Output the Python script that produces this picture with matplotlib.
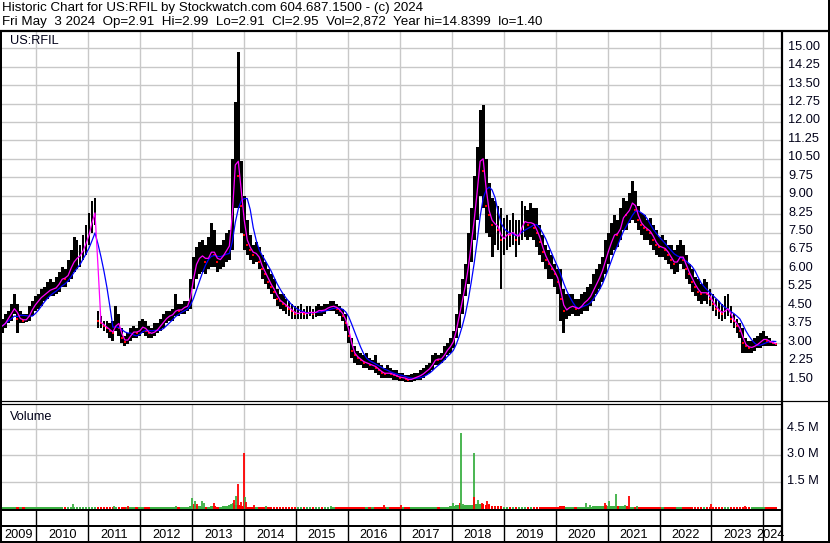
import numpy as np
import pandas as pd
import matplotlib
matplotlib.use("Agg")
import matplotlib.pyplot as plt
import matplotlib.dates as mdates
import matplotlib.transforms as mtransforms
from matplotlib.lines import Line2D

plt.rcParams['font.family'] = ['Liberation Sans', 'DejaVu Sans']

# ---------------- data (3-week bars) ----------------
bar_start = '2009-05-07'
bar_step = '21D'

highs = [
    4.0, 4.2, 4.3, 4.6, 5.0, 4.6, 4.3, 4.2, 4.2, 4.5,
    4.7, 4.9, 5.0, 5.2, 5.3, 5.5, 5.6, 5.5, 5.7, 5.9,
    6.1, 6.0, 6.4, 6.8, 7.3, 7.2, 7.0, 7.4, 7.8, 8.3,
    8.8, 8.9, 4.3, 4.1, 3.9, 3.9, 3.8, 3.9, 4.5, 4.2,
    3.6, 3.3, 3.4, 3.6, 3.7, 3.6, 3.9, 4.0, 3.9, 3.7,
    3.6, 3.8, 3.8, 4.0, 4.2, 4.3, 4.3, 4.4, 5.0, 4.6,
    4.6, 4.7, 4.7, 5.6, 6.5, 6.9, 7.1, 7.2, 7.0, 7.3,
    7.9, 7.6, 7.0, 7.0, 7.2, 7.5, 7.6, 10.5, 12.8, 14.84,
    10.4, 9.0, 8.0, 7.4, 7.0, 7.1, 6.9, 6.6, 6.3, 6.0,
    5.8, 5.6, 5.2, 5.0, 5.0, 4.8, 4.7, 4.6, 4.5, 4.5,
    4.6, 4.4, 4.5, 4.5, 4.4, 4.5, 4.6, 4.5, 4.6, 4.6,
    4.7, 4.7, 4.6, 4.5, 4.4, 4.2, 3.7, 3.2, 2.9, 2.7,
    2.6, 2.5, 2.6, 2.4, 2.3, 2.5, 2.2, 2.1, 2.0, 2.1,
    2.0, 1.9, 1.9, 1.8, 1.8, 1.7, 1.7, 1.75, 1.8, 1.8,
    1.9, 2.0, 2.1, 2.2, 2.5, 2.6, 2.5, 2.6, 2.9, 3.0,
    3.2, 3.5, 4.2, 5.0, 5.6, 6.2, 7.5, 8.5, 9.8, 11.0,
    12.5, 12.7, 10.5, 9.5, 8.9, 8.8, 8.6, 8.5, 8.1, 8.2,
    8.0, 8.3, 8.0, 8.0, 8.8, 8.6, 8.4, 8.7, 8.5, 8.5,
    7.8, 7.4, 7.0, 6.8, 6.6, 6.2, 6.0, 6.0, 5.2, 5.0,
    5.0, 5.0, 4.8, 4.8, 5.0, 5.1, 5.3, 5.4, 5.8, 6.0,
    6.2, 6.5, 7.2, 7.5, 7.9, 8.2, 8.0, 8.5, 8.9, 8.8,
    9.1, 9.6, 9.2, 8.6, 8.3, 8.2, 8.0, 8.1, 7.8, 7.6,
    7.3, 7.4, 7.2, 7.0, 7.0, 6.8, 7.0, 7.2, 7.0, 6.6,
    6.2, 6.0, 5.7, 5.6, 5.4, 5.6, 5.5, 5.2, 5.0, 4.8,
    4.7, 4.6, 4.9, 5.0, 4.5, 4.2, 4.0, 3.8, 3.6, 3.2,
    3.1, 3.1, 3.2, 3.3, 3.4, 3.5, 3.3, 3.2, 3.1, 3.0,
]
lows = [
    3.4, 3.6, 3.8, 3.9, 4.2, 3.4, 3.8, 3.8, 3.85, 3.9,
    4.1, 4.3, 4.4, 4.5, 4.7, 4.8, 4.9, 4.9, 5.0, 5.1,
    5.3, 5.3, 5.5, 5.6, 5.9, 6.0, 6.1, 6.4, 6.6, 7.0,
    7.5, 7.8, 3.6, 3.6, 3.5, 3.4, 3.2, 3.1, 3.5, 3.3,
    3.0, 2.9, 2.95, 3.1, 3.2, 3.2, 3.3, 3.4, 3.3, 3.2,
    3.2, 3.3, 3.4, 3.5, 3.6, 3.8, 3.9, 3.9, 4.1, 4.1,
    4.2, 4.2, 4.3, 4.4, 5.2, 5.6, 5.8, 5.9, 5.8, 6.0,
    6.1, 6.1, 5.9, 6.0, 6.1, 6.3, 6.4, 6.8, 8.5, 8.5,
    7.5, 6.8, 6.6, 6.4, 6.2, 6.3, 6.0, 5.6, 5.4, 5.2,
    5.0, 4.8, 4.5, 4.4, 4.3, 4.2, 4.1, 4.0, 4.0, 4.0,
    4.0, 4.0, 4.0, 4.1, 4.0, 4.05, 4.1, 4.1, 4.2, 4.3,
    4.3, 4.3, 4.2, 4.1, 3.9, 3.5, 3.0, 2.4, 2.2, 2.1,
    2.1, 2.0, 2.0, 1.9, 1.9, 1.8, 1.7, 1.6, 1.6, 1.6,
    1.6, 1.5, 1.5, 1.45, 1.45, 1.4, 1.4, 1.4, 1.45, 1.5,
    1.5, 1.6, 1.7, 1.8, 1.9, 2.1, 2.1, 2.2, 2.3, 2.5,
    2.6, 2.8, 3.2, 3.6, 4.2, 4.9, 5.4, 6.3, 7.2, 8.0,
    9.0, 8.5, 7.5, 7.3, 6.5, 7.0, 6.8, 5.2, 6.6, 6.8,
    6.9, 7.0, 6.5, 7.0, 7.2, 7.3, 7.2, 7.3, 7.2, 6.9,
    6.6, 6.3, 6.0, 5.6, 5.6, 5.3, 5.0, 3.9, 3.4, 4.0,
    4.1, 4.2, 4.1, 4.1, 4.2, 4.3, 4.3, 4.5, 4.7, 5.0,
    5.2, 5.5, 5.8, 6.2, 6.6, 6.8, 6.9, 7.2, 7.6, 7.6,
    7.9, 8.0, 7.9, 7.6, 7.4, 7.2, 7.2, 7.0, 6.8, 6.6,
    6.5, 6.5, 6.4, 6.2, 6.0, 5.8, 5.9, 6.2, 6.0, 5.6,
    5.4, 5.1, 4.9, 4.7, 4.6, 4.7, 4.6, 4.5, 4.3, 4.1,
    4.0, 3.9, 4.0, 4.1, 3.8, 3.6, 3.4, 3.2, 2.6, 2.6,
    2.6, 2.6, 2.7, 2.8, 2.8, 2.9, 2.9, 2.9, 2.9, 2.9,
]
closes = [
    3.7, 3.9, 4.1, 4.3, 4.5, 4.0, 4.0, 3.9, 4.0, 4.2,
    4.5, 4.6, 4.8, 4.9, 5.0, 5.1, 5.2, 5.2, 5.3, 5.5,
    5.7, 5.6, 5.9, 6.2, 6.4, 6.5, 6.6, 6.9, 7.2, 7.6,
    8.2, 8.4, 3.9, 3.8, 3.7, 3.6, 3.5, 3.4, 4.0, 3.6,
    3.2, 3.05, 3.2, 3.4, 3.5, 3.4, 3.6, 3.7, 3.5, 3.4,
    3.4, 3.5, 3.6, 3.8, 3.9, 4.1, 4.1, 4.2, 4.4, 4.3,
    4.4, 4.5, 4.5, 5.2, 6.0, 6.4, 6.5, 6.6, 6.3, 6.6,
    6.8, 6.6, 6.3, 6.5, 6.6, 6.9, 7.0, 9.5, 11.0, 9.8,
    8.6, 7.4, 7.0, 6.8, 6.6, 6.7, 6.3, 6.0, 5.8, 5.5,
    5.3, 5.1, 4.8, 4.7, 4.6, 4.5, 4.4, 4.3, 4.2, 4.2,
    4.3, 4.2, 4.2, 4.3, 4.2, 4.3, 4.35, 4.3, 4.4, 4.45,
    4.5, 4.5, 4.4, 4.3, 4.1, 3.8, 3.3, 2.7, 2.5, 2.4,
    2.3, 2.2, 2.2, 2.1, 2.1, 2.0, 1.9, 1.8, 1.75, 1.8,
    1.75, 1.7, 1.65, 1.6, 1.6, 1.55, 1.5, 1.55, 1.6, 1.65,
    1.7, 1.8, 1.9, 2.0, 2.2, 2.4, 2.3, 2.4, 2.6, 2.8,
    2.9, 3.2, 3.8, 4.4, 5.0, 5.6, 6.5, 7.5, 8.5, 9.8,
    11.0, 10.0, 8.6, 8.2, 7.8, 7.9, 7.6, 7.2, 7.3, 7.5,
    7.4, 7.6, 7.2, 7.5, 7.9, 8.0, 7.8, 8.0, 7.7, 7.5,
    7.1, 6.7, 6.4, 6.2, 6.0, 5.8, 5.5, 4.8, 4.3, 4.4,
    4.5, 4.5, 4.4, 4.4, 4.6, 4.7, 4.8, 5.0, 5.3, 5.5,
    5.8, 6.1, 6.6, 6.9, 7.3, 7.5, 7.4, 7.9, 8.3, 8.2,
    8.6, 8.8, 8.4, 8.0, 7.8, 7.7, 7.6, 7.5, 7.2, 7.0,
    6.9, 6.9, 6.8, 6.6, 6.4, 6.2, 6.4, 6.6, 6.4, 6.0,
    5.8, 5.5, 5.3, 5.1, 5.0, 5.1, 5.0, 4.8, 4.6, 4.4,
    4.3, 4.2, 4.4, 4.4, 4.0, 3.9, 3.7, 3.5, 3.0, 2.9,
    2.8, 2.85, 2.9, 3.0, 3.1, 3.2, 3.1, 3.05, 3.0, 2.95,
]
# baseline volume per 3-week bar, millions
vol_base = [
    0.03, 0.04, 0.03, 0.05, 0.04, 0.03, 0.03, 0.04, 0.03, 0.04,
    0.05, 0.04, 0.03, 0.04, 0.04, 0.05, 0.04, 0.03, 0.04, 0.05,
    0.04, 0.05, 0.06, 0.06, 0.07, 0.05, 0.04, 0.05, 0.06, 0.06,
    0.07, 0.06, 0.05, 0.05, 0.04, 0.05, 0.06, 0.05, 0.06, 0.05,
    0.05, 0.04, 0.04, 0.05, 0.04, 0.04, 0.04, 0.05, 0.04, 0.04,
    0.04, 0.05, 0.04, 0.05, 0.05, 0.06, 0.05, 0.05, 0.06, 0.05,
    0.04, 0.05, 0.05, 0.10, 0.12, 0.09, 0.10, 0.08, 0.07, 0.08,
    0.10, 0.09, 0.07, 0.08, 0.10, 0.12, 0.15, 0.20, 0.18, 0.15,
    0.10, 0.08, 0.07, 0.06, 0.06, 0.06, 0.05, 0.05, 0.05, 0.05,
    0.05, 0.04, 0.05, 0.04, 0.04, 0.05, 0.04, 0.04, 0.04, 0.04,
    0.04, 0.03, 0.04, 0.04, 0.03, 0.04, 0.04, 0.04, 0.05, 0.04,
    0.05, 0.05, 0.04, 0.04, 0.05, 0.06, 0.07, 0.08, 0.06, 0.06,
    0.05, 0.05, 0.06, 0.05, 0.05, 0.05, 0.06, 0.05, 0.05, 0.06,
    0.05, 0.05, 0.05, 0.04, 0.05, 0.05, 0.05, 0.05, 0.05, 0.05,
    0.05, 0.06, 0.05, 0.06, 0.07, 0.06, 0.06, 0.06, 0.07, 0.08,
    0.10, 0.10, 0.15, 0.14, 0.12, 0.15, 0.15, 0.18, 0.20, 0.22,
    0.25, 0.20, 0.18, 0.15, 0.12, 0.10, 0.10, 0.09, 0.08, 0.08,
    0.07, 0.08, 0.07, 0.07, 0.08, 0.07, 0.06, 0.07, 0.06, 0.06,
    0.06, 0.06, 0.07, 0.06, 0.06, 0.07, 0.08, 0.10, 0.09, 0.08,
    0.07, 0.07, 0.06, 0.06, 0.07, 0.07, 0.08, 0.08, 0.09, 0.10,
    0.10, 0.12, 0.12, 0.11, 0.10, 0.10, 0.09, 0.10, 0.10, 0.09,
    0.08, 0.08, 0.07, 0.07, 0.06, 0.06, 0.06, 0.06, 0.05, 0.05,
    0.05, 0.05, 0.05, 0.05, 0.05, 0.05, 0.05, 0.05, 0.05, 0.05,
    0.05, 0.05, 0.05, 0.05, 0.06, 0.06, 0.07, 0.06, 0.05, 0.05,
    0.05, 0.05, 0.06, 0.06, 0.05, 0.05, 0.05, 0.05, 0.06, 0.05,
    0.05, 0.04, 0.04, 0.04, 0.04, 0.04, 0.04, 0.04, 0.04, 0.04,
]
# notable single-day volume spikes: date, millions, up(1)/down(0)
spike_dates = ['2010-09-13', '2011-06-28', '2011-10-05', '2012-09-09',
               '2013-01-02', '2013-01-12', '2013-01-19', '2013-02-03', '2013-03-11',
               '2013-03-22', '2013-06-03', '2013-09-28', '2013-10-12', '2013-10-20',
               '2013-11-03', '2013-11-18', '2013-12-10', '2013-12-28', '2014-01-05',
               '2014-01-12', '2014-03-11', '2014-06-03', '2015-09-02', '2016-09-09',
               '2017-01-05', '2018-01-12', '2018-02-25', '2018-03-04', '2018-03-22',
               '2018-06-03', '2018-06-07', '2018-07-06', '2018-07-28', '2018-08-04',
               '2018-09-02', '2018-09-20', '2018-11-03', '2020-07-31', '2020-09-02',
               '2020-12-10', '2020-12-21', '2021-01-12', '2021-02-25', '2021-05-05',
               '2021-06-03', '2021-07-28', '2023-01-01', '2023-08-26']
spike_vol = [0.23, 0.10, 0.12, 0.12,
             0.55, 0.25, 0.42, 0.22, 0.42,
             0.30, 0.27, 0.20, 0.27, 0.45,
             0.65, 1.36, 0.35, 3.10, 0.60,
             0.35, 0.17, 0.12, 0.10, 0.15,
             0.17, 0.30, 0.30, 4.25, 0.20,
             3.10, 0.60, 0.45, 0.22, 0.30,
             0.42, 0.25, 0.12, 0.30, 0.15,
             0.30, 0.18, 0.40, 0.79, 0.15,
             0.65, 0.10, 0.20, 0.10]
spike_up = [1, 1, 0, 1,
            1, 0, 1, 0, 1,
            1, 0, 1, 1, 0,
            1, 0, 0, 0, 1,
            0, 0, 1, 1, 0,
            0, 1, 0, 1, 1,
            1, 0, 1, 1, 0,
            0, 0, 0, 1, 1,
            0, 0, 1, 1, 1,
            0, 1, 0, 0]

price_ticks = [1.50, 2.25, 3.00, 3.75, 4.50, 5.25, 6.00, 6.75, 7.50, 8.25,
               9.00, 9.75, 10.50, 11.25, 12.00, 12.75, 13.50, 14.25, 15.00]
vol_ticks = [1.5, 3.0, 4.5]
vol_tick_labels = ['1.5 M', '3.0 M', '4.5 M']
years = list(range(2009, 2025))

title1 = "Historic Chart for US:RFIL by Stockwatch.com 604.687.1500 - (c) 2024"
title2 = "Fri May  3 2024  Op=2.91  Hi=2.99  Lo=2.91  Cl=2.95  Vol=2,872  Year hi=14.8399  lo=1.40"
symbol = "US:RFIL"

# ---------------- figure ----------------
W, H = 830, 543
fig = plt.figure(figsize=(W / 100, H / 100), dpi=100)
fig.patch.set_facecolor('white')

def rect(x0, y0, x1, y1):
    return [x0 / W, 1 - y1 / H, (x1 - x0) / W, (y1 - y0) / H]

def fline(xs, ys, lw=1.0, color='black'):
    fig.add_artist(Line2D([x / W for x in xs], [1 - y / H for y in ys],
                          transform=fig.transFigure, color=color, lw=lw * 0.72,
                          solid_capstyle='butt'))

dates = pd.date_range(bar_start, periods=len(highs), freq=bar_step)
d = mdates.date2num(dates)
x_lo = mdates.date2num(pd.Timestamp('2009-04-27'))
x_hi = mdates.date2num(pd.Timestamp('2024-05-04'))
year_x = [mdates.date2num(pd.Timestamp(f'{y}-01-01')) for y in years]

hi = np.array(highs); lo = np.array(lows); cl = np.array(closes)
cs = pd.Series(cl)
ma_short = cs.rolling(2, min_periods=1).mean().values
ma_long = cs.rolling(6, min_periods=1).mean().values

grid_c = '#c8c8c8'
txt_c = '#000018'
fs = 9.2

# price panel
axp = fig.add_axes(rect(1, 32, 781, 400))
axp.set_xlim(x_lo, x_hi)
axp.set_ylim(0.686, 15.66)
axp.set_axis_off()
for xv in year_x[1:]:
    axp.axvline(xv, color=grid_c, lw=1.0, zorder=0)
for p in price_ticks:
    axp.axhline(p, color=grid_c, lw=1.0, zorder=0)
axp.bar(d, hi - lo, bottom=lo, width=20, color='black', linewidth=0, zorder=2)
down = np.r_[False, cl[1:] < cl[:-1]]
axp.plot(d[down], cl[down], 's', ms=1.6, mew=0, color='red', zorder=3)
axp.plot(d, ma_long, color='#0000ff', lw=0.9, zorder=4)
axp.plot(d, ma_short, color='#ff00ff', lw=0.9, zorder=5)
axp.text(9 / 780, 0.975, symbol, transform=axp.transAxes, fontsize=fs,
         va='center', ha='left', color=txt_c)

tr_p = mtransforms.blended_transform_factory(fig.transFigure, axp.transData)
for p in price_ticks:
    fig.text(788 / W, p + 0.06, f"{p:.2f}", transform=tr_p, fontsize=fs,
             va='center', ha='left', color=txt_c)

# volume panel
axv = fig.add_axes(rect(1, 404, 781, 509))
axv.set_xlim(x_lo, x_hi)
vb = -0.06
axv.set_ylim(vb, 5.9)
axv.set_axis_off()
for xv in year_x[1:]:
    axv.axvline(xv, color=grid_c, lw=1.0, zorder=0)
for v in vol_ticks:
    axv.axhline(v, color=grid_c, lw=1.0, zorder=0)
vcol = np.where(np.r_[True, cl[1:] >= cl[:-1]], '#3cb043', '#ff0000')
axv.bar(d, np.array(vol_base) - vb, bottom=vb, width=19, color=vcol, linewidth=0, zorder=2)
sd = mdates.date2num(pd.to_datetime(spike_dates))
scol = ['#3cb043' if u else '#ff0000' for u in spike_up]
axv.vlines(sd, vb, spike_vol, colors=scol, lw=1.3, zorder=3)
axv.text(9 / 780, 0.88, "Volume", transform=axv.transAxes, fontsize=fs,
         va='center', ha='left', color=txt_c)
tr_v = mtransforms.blended_transform_factory(fig.transFigure, axv.transData)
for v, lab in zip(vol_ticks, vol_tick_labels):
    fig.text(787 / W, v + 0.04, lab, transform=tr_v, fontsize=fs,
             va='center', ha='left', color=txt_c)

# year axis
axy = fig.add_axes(rect(1, 510, 781, 542))
axy.set_xlim(x_lo, x_hi)
axy.set_ylim(0, 1)
axy.set_axis_off()
for xv in year_x[1:]:
    axy.axvline(xv, color='black', lw=1.0)
bounds = [x_lo] + year_x[1:] + [x_hi]
for i, y in enumerate(years):
    c = (bounds[i] + bounds[i + 1]) / 2
    if y == 2024:
        c = bounds[i] + 48
    axy.text(c, 0.22, str(y), fontsize=fs, ha='center', va='center', color='black')

# frame lines
fline([0, 830], [31, 31], lw=2.2)
fline([1, 1], [31, 543], lw=2)
fline([829, 829], [0, 543], lw=2)
fline([0, 830], [542, 542], lw=2)
fline([782, 782], [31, 543], lw=2.2)
fline([0, 782], [401, 401], lw=1.2)
fline([0, 782], [403.5, 403.5], lw=1.2)
fline([782, 830], [401, 401], lw=1.2)
fline([0, 782], [509.5, 509.5], lw=2)
fline([0, 782], [525.5, 525.5], lw=2)

fig.text(2 / W, 1 - 2.5 / H, title1, fontsize=9.6, va='top', ha='left')
fig.text(2 / W, 1 - 16.5 / H, title2, fontsize=9.6, va='top', ha='left')

fig.savefig('out.png', dpi=100)
